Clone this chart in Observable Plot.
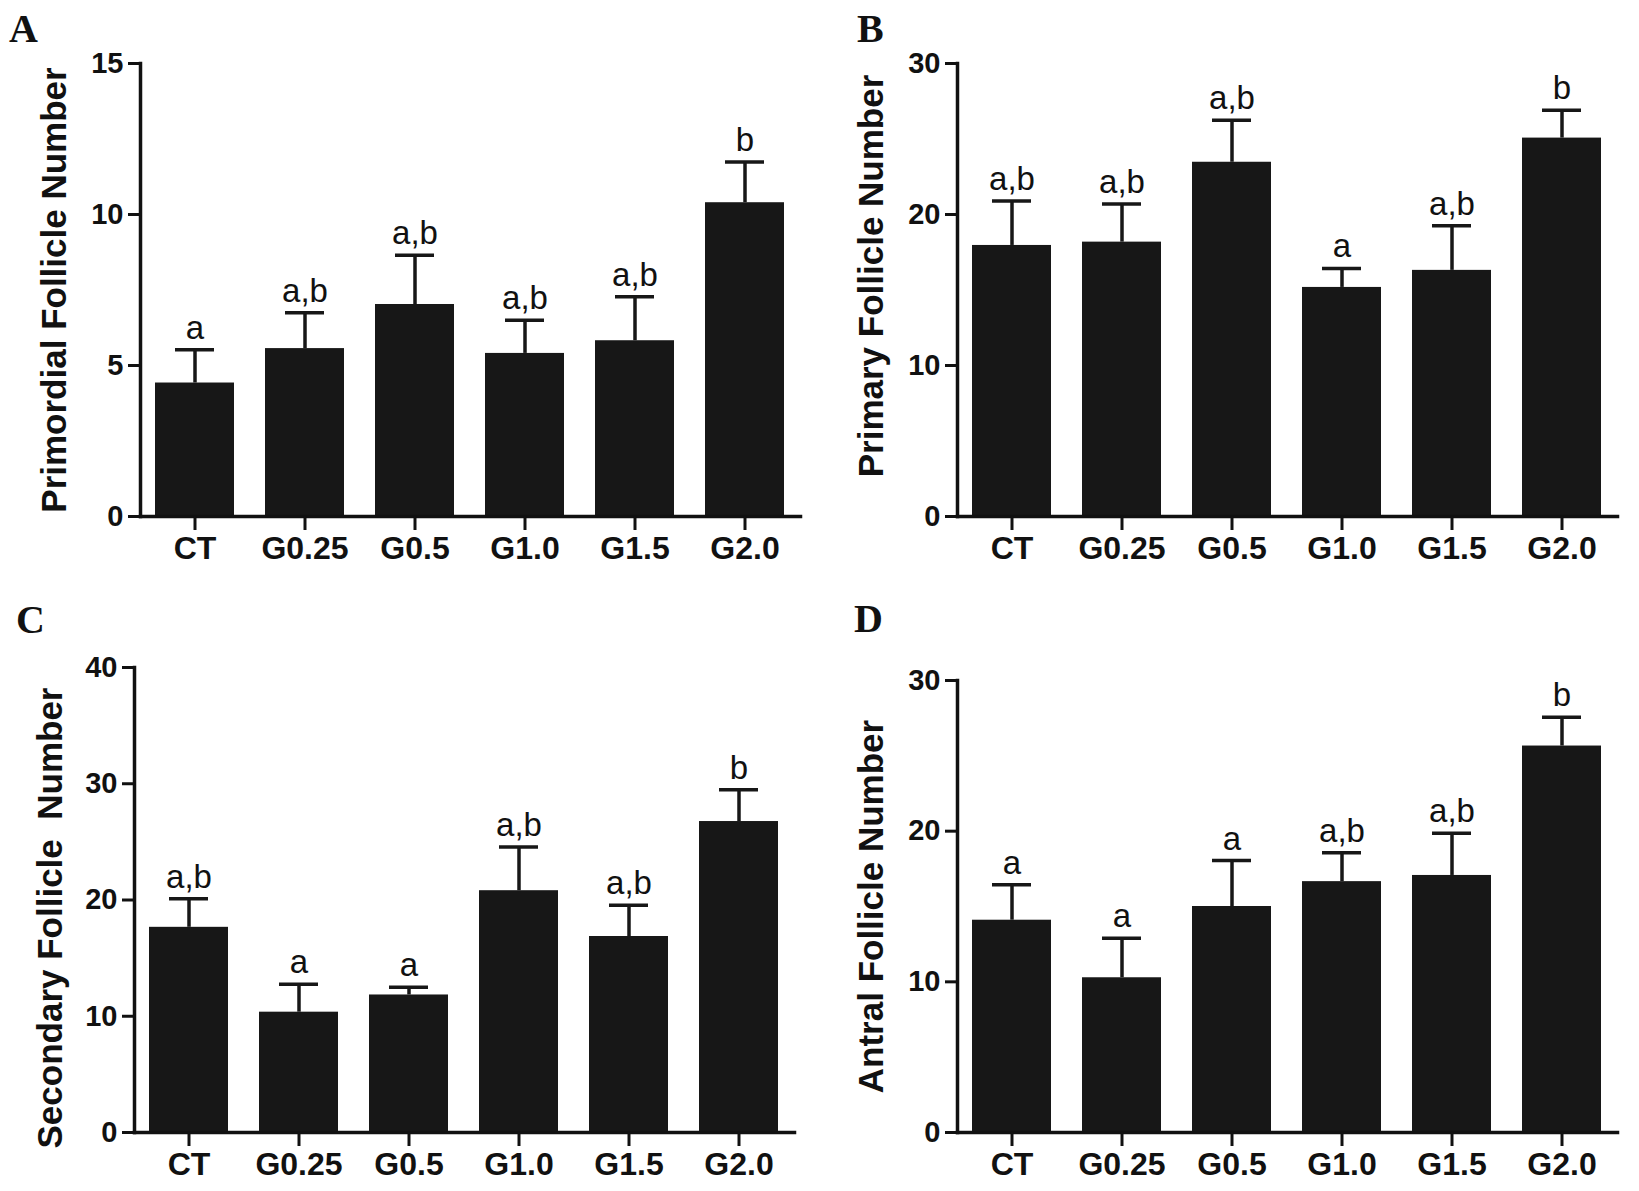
<!DOCTYPE html>
<html>
<head>
<meta charset="utf-8">
<script src="https://cdn.jsdelivr.net/npm/d3@7"></script>
<script src="https://cdn.jsdelivr.net/npm/@observablehq/plot@0.6"></script>
<style>
  html, body { margin: 0; padding: 0; background: #ffffff; }
  #fig { position: relative; width: 1639px; height: 1191px; background: #ffffff; overflow: hidden; }
  .panel { position: absolute; }
  .plabel { position: absolute; font-family: "Liberation Serif", "Times New Roman", serif; font-weight: bold; font-size: 40px; line-height: 1; color: #111; }
</style>
</head>
<body>
<div id="fig"></div>
<script>
// ---- data ----
const groups = ["CT", "G0.25", "G0.5", "G1.0", "G1.5", "G2.0"];

const primordialMean = [4.42, 5.56, 7.02, 5.40, 5.82, 10.39];
const primordialSem  = [1.10, 1.19, 1.63, 1.10, 1.46, 1.35];
const primordialLetters = ["a", "a,b", "a,b", "a,b", "a,b", "b"];
const primordialTicks = [0, 5, 10, 15];

const primaryMean = [17.95, 18.17, 23.46, 15.17, 16.30, 25.06];
const primarySem  = [2.95, 2.53, 2.78, 1.26, 2.95, 1.84];
const primaryLetters = ["a,b", "a,b", "a,b", "a", "a,b", "b"];
const primaryTicks = [0, 10, 20, 30];

const secondaryMean = [17.65, 10.35, 11.83, 20.80, 16.86, 26.75];
const secondarySem  = [2.45, 2.40, 0.66, 3.75, 2.69, 2.73];
const secondaryLetters = ["a,b", "a", "a", "a,b", "a,b", "b"];
const secondaryTicks = [0, 10, 20, 30, 40];

const antralMean = [14.09, 10.27, 15.00, 16.65, 17.06, 25.65];
const antralSem  = [2.36, 2.62, 3.05, 1.91, 2.80, 1.91];
const antralLetters = ["a", "a", "a", "a,b", "a,b", "b"];
const antralTicks = [0, 10, 20, 30];

const panelLetters = ["A", "B", "C", "D"];
const yTitles = ["Primordial Follicle Number", "Primary Follicle Number", "Secondary Follicle  Number", "Antral Follicle Number"];

// ---- build ----
function makePanel(mean, sem, letters, ticks, title, layout) {
  const data = groups.map((g, i) => ({group: g, mean: mean[i], upper: mean[i] + sem[i], letter: letters[i]}));
  const sw = 3.5;
  return Plot.plot({
    width: layout.width,
    height: layout.height,
    marginLeft: layout.ml,
    marginRight: layout.mr,
    marginTop: layout.mt,
    marginBottom: layout.mb,
    style: {fontFamily: "'Liberation Sans', Arial, sans-serif", color: "#111", background: "transparent", overflow: "visible"},
    x: {domain: groups, paddingInner: 0.28, paddingOuter: 0.14, label: null},
    y: {domain: [0, ticks[ticks.length - 1]], label: null},
    marks: [
      Plot.barY(data, {x: "group", y: "mean", fill: "#171717"}),
      Plot.ruleX(data, {x: "group", y1: "mean", y2: "upper", stroke: "#171717", strokeWidth: sw}),
      Plot.tickY(data, {x: "group", y: "upper", stroke: "#171717", strokeWidth: sw, insetLeft: 20, insetRight: 20}),
      Plot.text(data, {x: "group", y: "upper", text: "letter", lineAnchor: "bottom", dy: -11, fontSize: 33, fill: "#111"}),
      Plot.frame({anchor: "left", stroke: "#111", strokeWidth: sw}),
      Plot.frame({anchor: "bottom", stroke: "#111", strokeWidth: sw}),
      Plot.axisY({ticks: ticks, tickSize: 12, tickPadding: 5, strokeWidth: 3, fontSize: 29, fontWeight: "bold", label: null, tickFormat: d => String(d)}),
      Plot.axisX({tickSize: 14, tickPadding: 6, strokeWidth: 3, fontSize: 32, fontWeight: "bold", label: null}),
      Plot.text([title], {text: d => d, frameAnchor: "left", textAnchor: "middle", dx: -layout.titleOffset, dy: layout.titleDy || 0, rotate: -90, fontSize: 35, fontWeight: "bold", fill: "#111"})
    ]
  });
}

const fig = document.getElementById("fig");
const layouts = [
  {left: 0,   top: 0,   width: 820, height: 590, ml: 140, mr: 20, mt: 63, mb: 74, titleOffset: 86},
  {left: 817, top: 0,   width: 820, height: 590, ml: 140, mr: 20, mt: 63, mb: 74, titleOffset: 86, titleDy: -14},
  {left: 0,   top: 590, width: 820, height: 601, ml: 134, mr: 26, mt: 77, mb: 59, titleOffset: 84, titleDy: 18},
  {left: 817, top: 590, width: 820, height: 601, ml: 140, mr: 20, mt: 90, mb: 59, titleOffset: 86}
];
const series = [
  [primordialMean, primordialSem, primordialLetters, primordialTicks],
  [primaryMean, primarySem, primaryLetters, primaryTicks],
  [secondaryMean, secondarySem, secondaryLetters, secondaryTicks],
  [antralMean, antralSem, antralLetters, antralTicks]
];
const letterPos = [[9, 9], [857, 9], [16, 600], [854, 599]];

series.forEach((s, i) => {
  const L = layouts[i];
  const wrap = document.createElement("div");
  wrap.className = "panel";
  wrap.style.left = L.left + "px";
  wrap.style.top = L.top + "px";
  wrap.appendChild(makePanel(s[0], s[1], s[2], s[3], yTitles[i], L));
  fig.appendChild(wrap);
  const lab = document.createElement("div");
  lab.className = "plabel";
  lab.style.left = letterPos[i][0] + "px";
  lab.style.top = letterPos[i][1] + "px";
  lab.textContent = panelLetters[i];
  fig.appendChild(lab);
});
</script>
</body>
</html>
